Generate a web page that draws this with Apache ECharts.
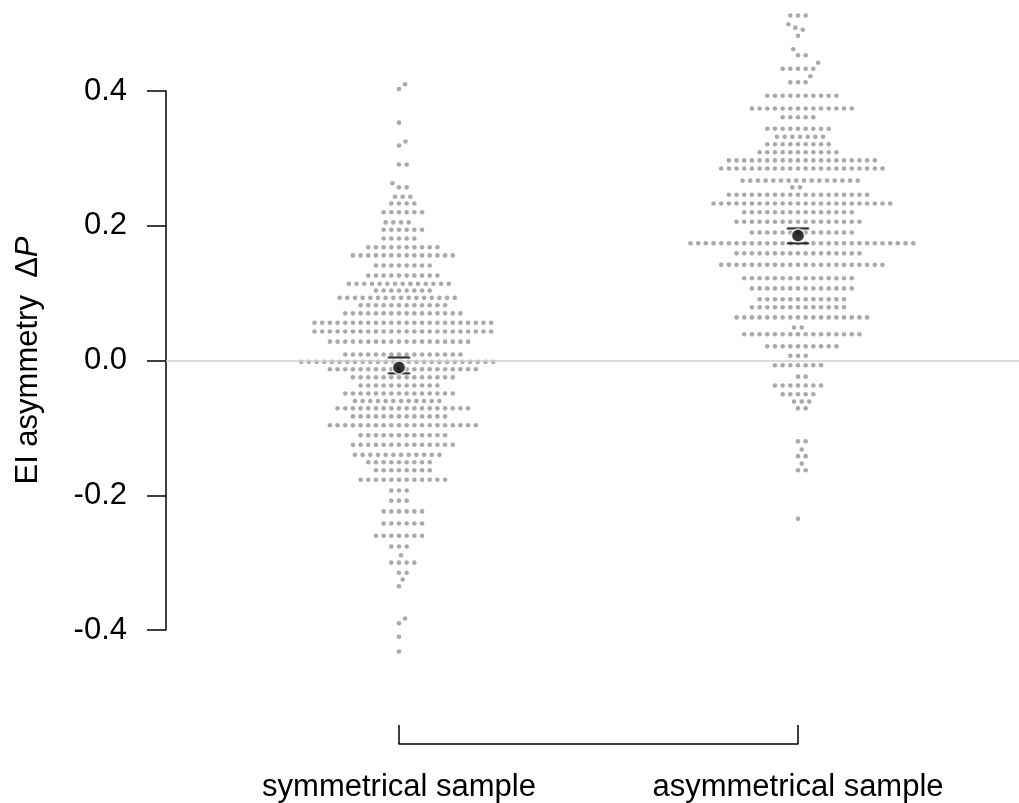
<!DOCTYPE html>
<html><head><meta charset="utf-8">
<script src="https://cdn.jsdelivr.net/npm/echarts@6/dist/echarts.min.js"></script>
<style>html,body{margin:0;padding:0;background:#fff}#c{width:1019px;height:803px}</style>
</head><body><div id="c"></div>
<script>
// ---------- data ----------
const categories = ['symmetrical sample', 'asymmetrical sample'];
const yTicks = [-0.4, -0.2, 0, 0.2, 0.4];

// symmetrical sample: value levels and number of points at each level
const symLevels = [0.410,0.403,0.353,0.325,0.319,0.291,0.263,0.257,0.243,0.233,0.220,0.205,0.194,0.181,0.168,0.156,0.141,0.126,0.114,0.104,0.093,0.082,0.070,0.056,0.043,0.028,0.009,-0.002,-0.013,-0.025,-0.037,-0.049,-0.060,-0.071,-0.083,-0.096,-0.111,-0.125,-0.140,-0.151,-0.163,-0.177,-0.193,-0.208,-0.224,-0.242,-0.260,-0.276,-0.289,-0.300,-0.315,-0.325,-0.335,-0.383,-0.390,-0.410,-0.432];
const symCounts = [1,1,1,1,1,2,1,2,3,4,6,4,6,5,10,14,8,10,14,8,16,12,16,24,24,19,16,26,20,14,11,15,12,18,13,20,12,14,12,9,8,12,3,3,6,6,7,3,1,4,2,1,1,1,1,1,1];

// asymmetrical sample
const asymLevels = [0.512,0.499,0.494,0.491,0.482,0.462,0.453,0.442,0.433,0.422,0.413,0.393,0.374,0.361,0.344,0.332,0.321,0.309,0.297,0.285,0.267,0.257,0.246,0.233,0.220,0.206,0.190,0.174,0.159,0.142,0.122,0.107,0.091,0.079,0.064,0.049,0.039,0.021,0.007,-0.007,-0.024,-0.037,-0.050,-0.061,-0.071,-0.120,-0.132,-0.142,-0.153,-0.163,-0.235];
const asymCounts = [3,1,1,1,1,1,2,1,5,1,3,10,14,5,9,7,9,11,20,22,16,2,19,24,15,17,14,30,17,22,15,14,12,13,18,2,16,10,3,7,2,7,5,3,2,2,1,2,1,2,1];

const means = [-0.0104, 0.1855];
const ciLow = [-0.019, 0.174];
const ciHigh = [0.0045, 0.196];

// ---------- layout ----------
const FONT = '"Liberation Sans", Arial, sans-serif';
const GRID = {left: 166, top: 91, width: 853, height: 539};
const yMin = -0.4, yMax = 0.4;
const pxPerY = GRID.height / (yMax - yMin);
const catPx = 399;                       // pixels between the two groups
const xMin = 1 - (399 - GRID.left) / catPx;
const xMax = xMin + GRID.width / catPx;
const DSIZE = 7.68;                       // swarm collision diameter, px

function expand(levels, counts) {
  const v = [];
  levels.forEach((l, i) => { for (let k = 0; k < counts[i]; k++) v.push(l); });
  return v;
}

// beeswarm "swarm" layout (ascending priority), offsets in px
function swarm(vals) {
  const idx = vals.map((v, i) => i).sort((a, b) => (vals[a] - vals[b]) || (a - b));
  const off = new Array(vals.length).fill(0);
  const placed = [];
  for (const i of idx) {
    const xi = vals[i] * pxPerY / DSIZE;
    const pre = placed.filter(p => Math.abs(xi - p.x) < 1);
    let best = 0;
    if (pre.length) {
      pre.sort((a, b) => Math.abs(a.y) - Math.abs(b.y));
      const cand = [0];
      pre.forEach(p => cand.push(p.y + Math.sqrt(1 - (xi - p.x) ** 2)));
      pre.forEach(p => cand.push(p.y - Math.sqrt(1 - (xi - p.x) ** 2)));
      let bestAbs = Infinity;
      for (const c of cand) {
        if (Math.abs(c) >= bestAbs) continue;
        let bad = false;
        for (const p of pre) {
          if ((xi - p.x) ** 2 + (c - p.y) ** 2 < 0.999) { bad = true; break; }
        }
        if (!bad) { best = c; bestAbs = Math.abs(c); }
      }
    }
    off[i] = best * DSIZE;
    placed.push({x: xi, y: best});
  }
  return off;
}

function swarmData(levels, counts, g) {
  const vals = expand(levels, counts);
  const off = swarm(vals);
  return vals.map((v, i) => [g + off[i] / catPx, v]);
}

const symData = swarmData(symLevels, symCounts, 1);
const asymData = swarmData(asymLevels, asymCounts, 2);
const meanData = means.map((m, i) => [i + 1, m]);
const capData = [];
ciLow.forEach((l, i) => { capData.push([i + 1, l]); capData.push([i + 1, ciHigh[i]]); });

const dotStyle = {color: '#939393'};

const chart = echarts.init(document.getElementById('c'), null, {renderer: 'canvas'});
chart.setOption({
  animation: false,
  backgroundColor: '#ffffff',
  grid: [
    {left: GRID.left, top: GRID.top, width: GRID.width, height: GRID.height},
    {left: 399, width: catPx, top: 725, height: 19}
  ],
  xAxis: [
    {gridIndex: 0, type: 'value', min: xMin, max: xMax, show: false},
    {gridIndex: 1, type: 'category', data: categories, boundaryGap: false,
     axisLine: {show: true, lineStyle: {color: '#000', width: 1.5}},
     axisTick: {show: true, inside: true, length: 19, lineStyle: {color: '#000', width: 1.5}},
     axisLabel: {show: true, interval: 0, margin: 28, fontSize: 31, color: '#000', fontFamily: FONT},
     splitLine: {show: false}}
  ],
  yAxis: [
    {gridIndex: 0, type: 'value', min: yTicks[0], max: yTicks[yTicks.length - 1], interval: 0.2,
     name: 'EI asymmetry  Δ{i|P}', nameLocation: 'middle', nameGap: 122,
     nameTextStyle: {fontSize: 31, color: '#000', fontFamily: FONT,
       rich: {i: {fontSize: 31, color: '#000', fontFamily: FONT, fontStyle: 'italic'}}},
     axisLine: {show: true, lineStyle: {color: '#000', width: 1.5}},
     axisTick: {show: true, length: 19, lineStyle: {color: '#000', width: 1.5}},
     axisLabel: {margin: 39, fontSize: 31, color: '#000', fontFamily: FONT,
       formatter: v => (Math.round(v * 10) / 10).toFixed(1)},
     splitLine: {show: false}},
    {gridIndex: 1, type: 'value', show: false}
  ],
  series: [
    {type: 'scatter', xAxisIndex: 0, yAxisIndex: 0, data: [], z: 1, silent: true,
     markLine: {silent: true, symbol: 'none', label: {show: false},
       lineStyle: {color: '#d0d0d0', width: 1.5, type: 'solid'},
       data: [{yAxis: 0}]}},
    {type: 'scatter', xAxisIndex: 0, yAxisIndex: 0, data: symData, clip: false, z: 2,
     symbolSize: 4.6, itemStyle: dotStyle},
    {type: 'scatter', xAxisIndex: 0, yAxisIndex: 0, data: asymData, clip: false, z: 2,
     symbolSize: 4.6, itemStyle: dotStyle},
    {type: 'scatter', xAxisIndex: 0, yAxisIndex: 0, data: capData, clip: false, z: 3,
     symbol: 'rect', symbolSize: [24, 2.5],
     itemStyle: {color: '#000', borderColor: '#fff', borderWidth: 0.8}},
    {type: 'scatter', xAxisIndex: 0, yAxisIndex: 0, data: meanData, clip: false, z: 4,
     symbol: 'circle', symbolSize: 13,
     itemStyle: {color: '#000', borderColor: '#fff', borderWidth: 1.5}}
  ]
});
</script>
</body></html>
